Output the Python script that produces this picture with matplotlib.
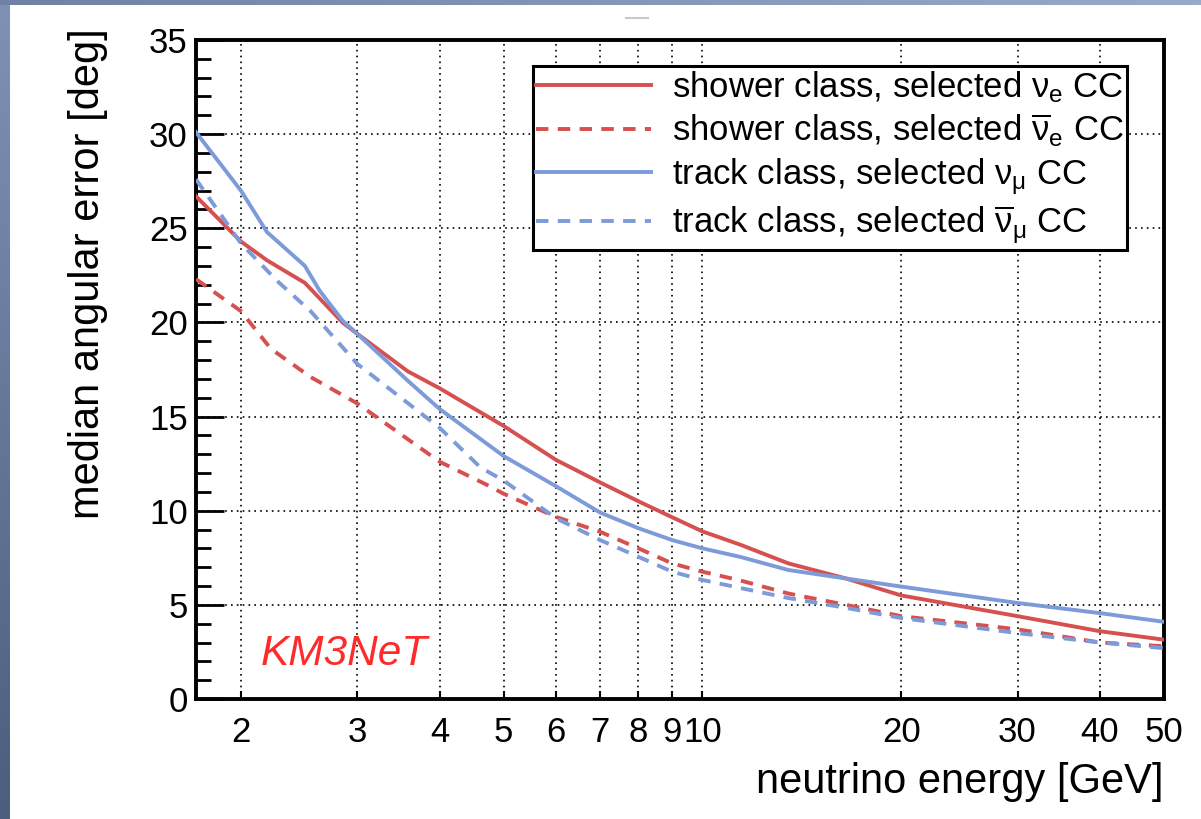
import numpy as np
import matplotlib
matplotlib.use("Agg")
import matplotlib.pyplot as plt
from matplotlib.ticker import FixedLocator, NullLocator, MultipleLocator, FixedFormatter
from matplotlib.lines import Line2D

plt.rcParams['font.family'] = ['Liberation Sans', 'DejaVu Sans']
plt.rcParams['mathtext.fontset'] = 'custom'
plt.rcParams['mathtext.rm'] = 'Liberation Sans'
plt.rcParams['mathtext.it'] = 'Liberation Sans'
plt.rcParams['mathtext.bf'] = 'Liberation Sans:bold'

# ---------------- data ----------------
e_nue = [1.71, 2.0, 2.19, 2.5, 2.85, 3.0, 3.58, 4.0, 5.0, 6, 7, 8, 9, 10, 11.4, 13.5, 16.5, 20, 30, 40, 50]
v_nue = [26.7, 24.3, 23.3, 22.1, 20.0, 19.4, 17.4, 16.5, 14.5, 12.7, 11.5, 10.5, 9.65, 8.9, 8.2, 7.2, 6.4, 5.5, 4.4, 3.6, 3.15]

e_nuebar = [1.71, 2.0, 2.22, 2.55, 3.0, 4.0, 4.7, 5.0, 6, 7, 8, 9, 10, 11.4, 13.5, 16.5, 20, 30, 40, 50]
v_nuebar = [22.3, 20.6, 18.6, 17.1, 15.7, 12.6, 11.4, 10.9, 9.67, 8.88, 8.0, 7.2, 6.76, 6.3, 5.6, 5.0, 4.4, 3.7, 3.0, 2.8]

e_numu = [1.71, 2.0, 2.19, 2.5, 2.63, 2.85, 3.0, 3.58, 4.0, 5.0, 6, 7, 8, 9, 10, 11.4, 13.5, 16.5, 20, 30, 40, 50]
v_numu = [30.1, 27.0, 24.8, 23.0, 21.7, 20.1, 19.4, 16.9, 15.4, 12.9, 11.3, 9.9, 9.07, 8.44, 8.0, 7.55, 6.85, 6.4, 5.97, 5.1, 4.56, 4.1]

e_numubar = [1.71, 2.0, 2.27, 2.55, 3.0, 4.0, 4.61, 5.0, 6, 7, 8, 9, 10, 11.4, 13.5, 16.5, 20, 30, 40, 50]
v_numubar = [27.6, 24.2, 22.2, 20.6, 17.8, 14.4, 12.3, 11.6, 9.6, 8.44, 7.55, 6.76, 6.32, 5.9, 5.36, 4.84, 4.3, 3.5, 3.0, 2.7]

labels = [r'shower class, selected $\nu_{\mathrm{e}}$ CC',
          r'shower class, selected $\overline{\nu}_{\mathrm{e}}$ CC',
          r'track class, selected $\nu_{\mu}$ CC',
          r'track class, selected $\overline{\nu}_{\mu}$ CC']

xticks = [2, 3, 4, 5, 6, 7, 8, 9, 10, 20, 30, 40, 50]
xticklabels = ['2', '3', '4', '5', '6', '7', '8', '9', '10', '20', '30', '40', '50']

RED = '#d6504f'
BLUE = '#7d9bd9'

# ---------------- figure ----------------
fig = plt.figure(figsize=(12.01, 8.19), dpi=100)
fig.patch.set_facecolor('white')

# slide background strips
gx = fig.add_axes([0, 0, 10 / 1201, 1])
gx.imshow(np.linspace(0, 1, 200).reshape(-1, 1), aspect='auto',
          cmap=matplotlib.colors.LinearSegmentedColormap.from_list('g', ['#7f92b6', '#4d5d7e']),
          extent=[0, 1, 0, 1])
gx.axis('off')
gt = fig.add_axes([0, 1 - 5 / 819, 1, 5 / 819])
gt.imshow(np.linspace(0, 1, 200).reshape(1, -1), aspect='auto',
          cmap=matplotlib.colors.LinearSegmentedColormap.from_list('g2', ['#6f82a6', '#9aa9c9']),
          extent=[0, 1, 0, 1])
gt.axis('off')
fig.add_artist(Line2D([626 / 1201, 648 / 1201], [1 - 18 / 819, 1 - 18 / 819], color='#c8c8c8', lw=1.5))

ax = fig.add_axes([196 / 1201, 1 - 699 / 819, (1164 - 196) / 1201, (699 - 40) / 819])
ax.set_xscale('log')
ax.set_xlim(1.71, 50)
ax.set_ylim(0, 35)

lw = 2.8
dash = (0, (3.2, 2.4))
ax.plot(e_nue, v_nue, color=RED, lw=lw, label=labels[0], zorder=3)
ax.plot(e_nuebar, v_nuebar, color=RED, lw=lw, ls=dash, label=labels[1], zorder=3)
ax.plot(e_numu, v_numu, color=BLUE, lw=lw, label=labels[2], zorder=3)
ax.plot(e_numubar, v_numubar, color=BLUE, lw=lw, ls=dash, label=labels[3], zorder=3)

# ticks
ax.xaxis.set_major_locator(FixedLocator(xticks))
ax.xaxis.set_major_formatter(FixedFormatter(xticklabels))
ax.xaxis.set_minor_locator(NullLocator())
ax.yaxis.set_major_locator(MultipleLocator(5))
ax.yaxis.set_minor_locator(MultipleLocator(1))
ax.tick_params(axis='x', which='major', direction='in', length=6, width=1.5, labelsize=25, pad=12)
ax.tick_params(axis='y', which='major', direction='in', length=20, width=2, labelsize=25, pad=6)
ax.tick_params(axis='y', which='minor', direction='in', length=11, width=2)
for t in ax.xaxis.get_major_ticks():
    if t.get_loc() == 10:
        t.tick1line.set_markersize(16)

ax.grid(True, which='major', color='black', ls=(0, (1, 2.5)), lw=1.2)
for s in ax.spines.values():
    s.set_linewidth(2.8)

# axis labels
fig.text(1164 / 1201, 1 - 782 / 819, 'neutrino energy [GeV]', ha='right', va='center', fontsize=30)
fig.text(88 / 1201, 1 - 28 / 819, 'median angular error [deg]', ha='center', va='top',
         rotation=90, fontsize=30)

ax.text(2.14, 1.8, 'KM3NeT', color='#ff2a2a', fontsize=30.5, style='italic', ha='left', va='baseline')

leg = ax.legend(loc='upper right', bbox_to_anchor=(0.962, 0.961), fontsize=25,
                handlelength=3.3, handletextpad=0.6, labelspacing=0.2,
                borderpad=0.1, borderaxespad=0.0,
                frameon=True, fancybox=False, framealpha=1, edgecolor='black')
leg.get_frame().set_linewidth(2.2)

fig.savefig('out.png', dpi=100)
